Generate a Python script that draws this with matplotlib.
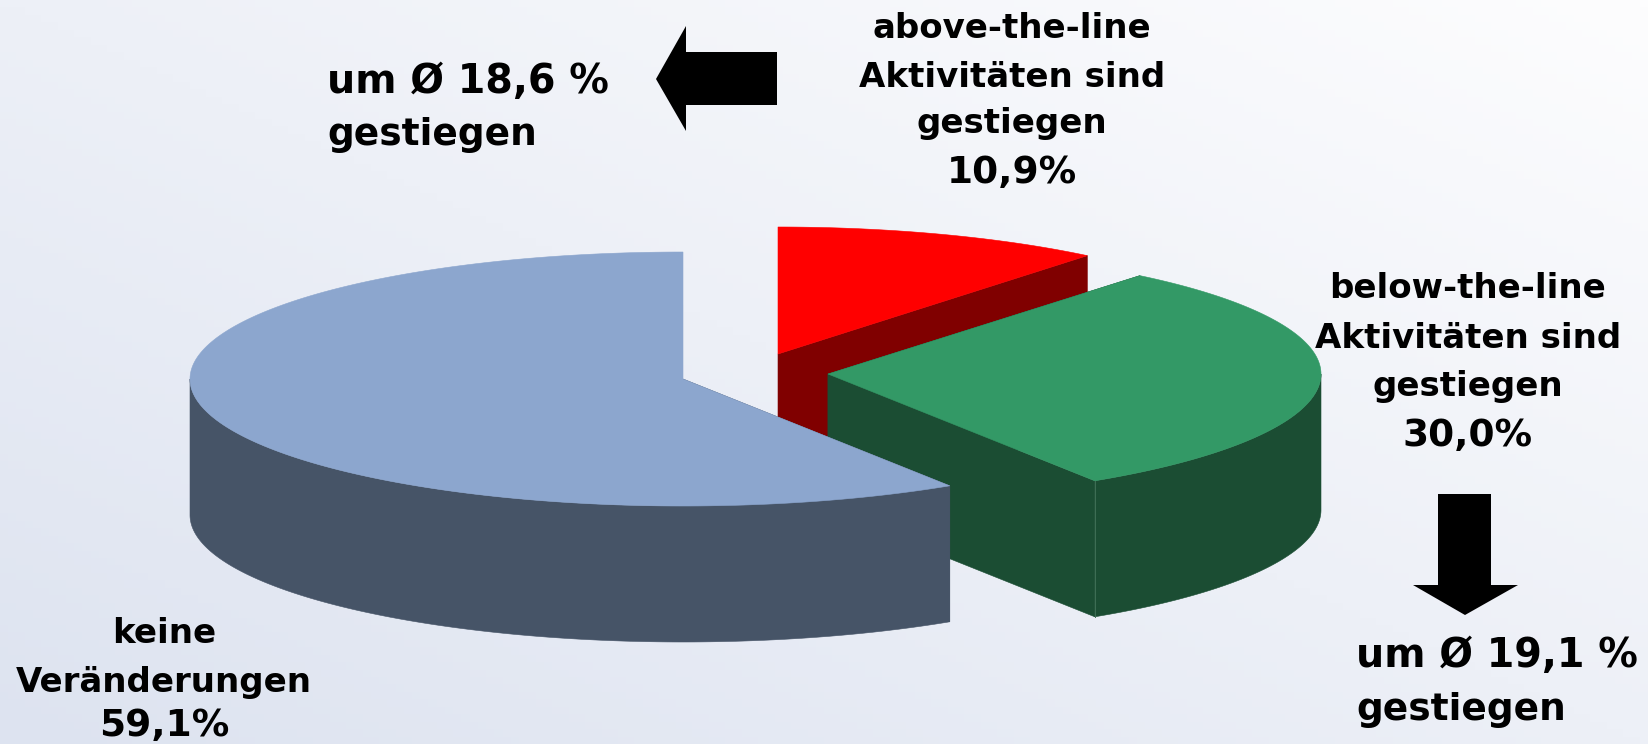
import numpy as np
import matplotlib
matplotlib.use("Agg")
import matplotlib.pyplot as plt
from matplotlib.patches import Polygon

# Data
categories = ["above-the-line", "below-the-line", "keine Veränderungen"]
shares = [10.9, 30.0, 59.1]
top_colors = ["#FF0000", "#339966", "#8CA6CE"]
side_colors = ["#800000", "#1B4D33", "#465467"]
change_labels = ["um Ø 18,6 %", "um Ø 19,1 %"]

W, H = 1648, 744
radii_x = [489, 493, 493]
RY, DEPTH = 127, 136
centers = [(778, 354), (828, 374), (683, 379)]

fig = plt.figure(figsize=(W / 100, H / 100), dpi=100)
ax = fig.add_axes([0, 0, 1, 1])
ax.set_xlim(0, W)
ax.set_ylim(H, 0)
ax.axis("off")

# background gradient, bottom-left darker to top-right lighter
gx, gy = np.meshgrid(np.linspace(0, 1, 200), np.linspace(0, 1, 100))
t = np.clip((gx + (1 - gy)) / 2, 0, 1)[..., None]
c0 = np.array([0xDD, 0xE3, 0xF0]) / 255
c1 = np.array([0xFD, 0xFD, 0xFE]) / 255
ax.imshow(c0 + (c1 - c0) * t, extent=[0, W, H, 0], aspect="auto", zorder=0)


def rim(c, rx, a):
    """Point on the ellipse, angle a in degrees clockwise from the top."""
    r = np.radians(a)
    return c[0] + rx * np.sin(r), c[1] - RY * np.cos(r)


start = 0.0
z = 1
for share, c, rx, top, side in zip(shares, centers, radii_x, top_colors, side_colors):
    end = start + share * 3.6
    xs, ys = rim(c, rx, np.linspace(start, end, 200))

    # flat cut faces
    for a in (start, end):
        if a in (0.0, 360.0):
            continue
        px, py = rim(c, rx, a)
        ax.add_patch(Polygon([c, (px, py), (px, py + DEPTH), (c[0], c[1] + DEPTH)],
                             closed=True, fc=side, ec=side, lw=0.4, zorder=z))
    # outer wall: only the part of the rim facing the viewer
    lo, hi = max(start, 90.0), min(end, 270.0)
    if hi > lo:
        wx, wy = rim(c, rx, np.linspace(lo, hi, 200))
        pts = np.r_[np.c_[wx, wy], np.c_[wx, wy + DEPTH][::-1]]
        ax.add_patch(Polygon(pts, closed=True, fc=side, ec=side, lw=0.4, zorder=z + 0.1))
    px, py = rim(c, rx, end)
    if 90 < end < 270:
        ax.plot([px, px], [py, py + DEPTH], color="#3F6F56", lw=0.7, zorder=z + 0.2)
    ax.add_patch(Polygon(np.r_[[c], np.c_[xs, ys]], closed=True, fc=top, ec=top, lw=0.4, zorder=z + 0.3))
    start = end
    z += 1

# arrows
ax.add_patch(Polygon([(656, 79), (686, 26), (686, 52), (777, 52), (777, 105), (686, 105), (686, 131)],
                     closed=True, fc="black", ec="none", zorder=6))
ax.add_patch(Polygon([(1438, 494), (1491, 494), (1491, 585), (1518, 585), (1465, 615), (1413, 585), (1438, 585)],
                     closed=True, fc="black", ec="none", zorder=6))


def put(x, y, s, ha="center", size=24.5):
    ax.text(x, y, s, ha=ha, va="baseline", family="DejaVu Sans", fontweight="bold",
            fontsize=size, color="black", zorder=7)


def pct(v):
    return f"{v:.1f}%".replace(".", ",")


# above-the-line block
put(1012, 38, categories[0])
put(1012, 87, "Aktivitäten sind")
put(1012, 133, "gestiegen")
put(1012, 183, pct(shares[0]), size=27)
# below-the-line block
put(1468, 298, categories[1])
put(1468, 348, "Aktivitäten sind")
put(1468, 396, "gestiegen")
put(1468, 446, pct(shares[1]), size=27)
# no change block
put(164, 643, "keine")
put(164, 692, "Veränderungen")
put(164, 736, pct(shares[2]), size=27)
# average change notes
put(327, 93, change_labels[0], ha="left", size=28.5)
put(327, 145, "gestiegen", ha="left", size=27)
put(1356, 667, change_labels[1], ha="left", size=28.5)
put(1356, 720, "gestiegen", ha="left", size=27)

fig.savefig("out.png", dpi=100)
